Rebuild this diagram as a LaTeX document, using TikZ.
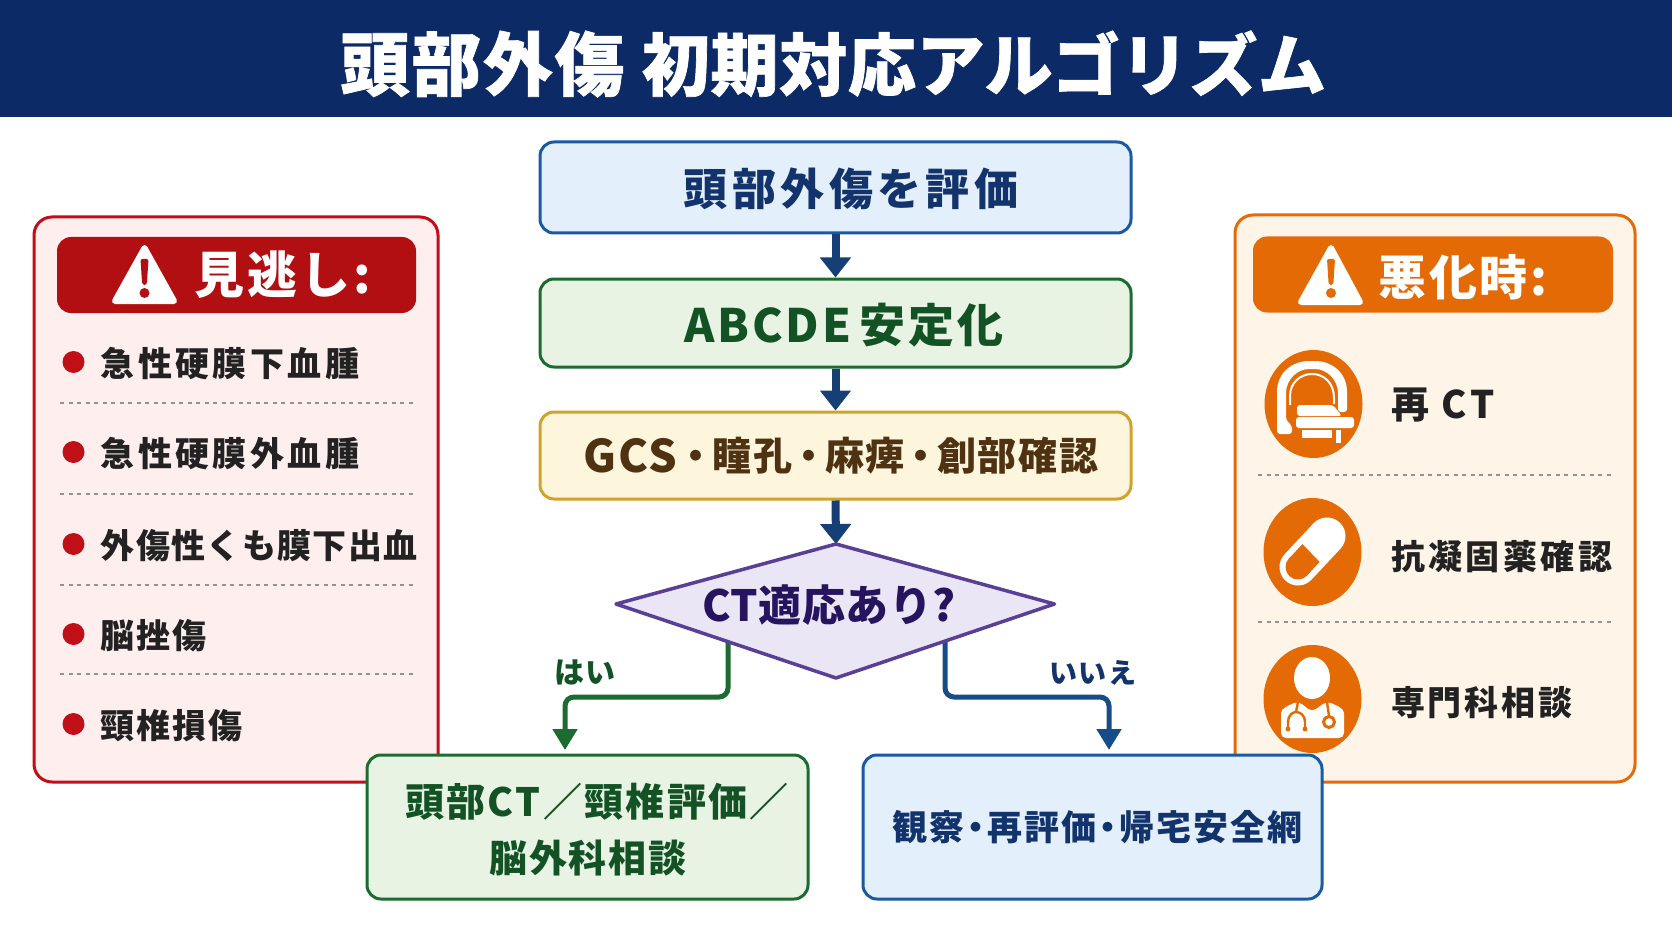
\documentclass[tikz,border=0pt]{standalone}
\usepackage{fontspec}
\usetikzlibrary{shapes.geometric,arrows.meta,calc}
\setmainfont{Noto Sans CJK JP}
\newfontfamily\jpt{Noto Sans CJK JP}[LetterSpace=1,FakeBold=1]
\newfontfamily\jpu{Noto Sans CJK JP}[LetterSpace=3,FakeBold=1]
\newfontfamily\jpn{Noto Sans CJK JP}[LetterSpace=1]
\newfontfamily\jpc{Noto Sans CJK JP}[LetterSpace=4]
\newfontfamily\jpa{Noto Sans CJK JP}[LetterSpace=6]
\newfontfamily\jpd{Noto Sans CJK JP}[LetterSpace=8]
\newfontfamily\jpb{Noto Sans CJK JP}[LetterSpace=10]
\definecolor{navy}{HTML}{0B2A66}
\definecolor{arrowblue}{HTML}{163F75}
\definecolor{bluebd}{HTML}{1A5AA0}
\definecolor{bluefl}{HTML}{E3F0FC}
\definecolor{bluetx}{HTML}{12336B}
\definecolor{greenbd}{HTML}{1C6B30}
\definecolor{greenfl}{HTML}{E8F3E4}
\definecolor{greentx}{HTML}{125224}
\definecolor{yellowbd}{HTML}{D1A22C}
\definecolor{yellowfl}{HTML}{FDF5DC}
\definecolor{yellowtx}{HTML}{4E3212}
\definecolor{purplebd}{HTML}{5A3F96}
\definecolor{purplefl}{HTML}{EBE6F6}
\definecolor{purpletx}{HTML}{26145F}
\definecolor{redbd}{HTML}{C00F17}
\definecolor{redfl}{HTML}{FEEEEE}
\definecolor{redhd}{HTML}{B20F12}
\definecolor{orangebd}{HTML}{E56A0A}
\definecolor{orangefl}{HTML}{FEF4E8}
\definecolor{orangehd}{HTML}{E46A06}
\definecolor{inkdark}{HTML}{222222}
\tikzset{
  flowbox/.style={draw,rounded corners=14pt,line width=3pt,inner sep=0pt},
  panelbox/.style={draw,rounded corners=18pt,line width=3pt,inner sep=0pt},
  headbox/.style={rounded corners=14pt,inner sep=0pt},
  sep/.style={draw=gray!85,line width=2pt,dash pattern=on 4pt off 4.5pt},
  mainarrow/.style={draw=arrowblue,line width=8pt,-{Triangle[length=20pt,width=30pt]}},
  brancharrow/.style={line width=5pt,rounded corners=9pt,-{Triangle[length=21pt,width=24pt]}},
  panelitem/.style={anchor=west,inner sep=0pt,text=inkdark,font=\jpa\bfseries\fontsize{34}{38}\selectfont},
  bullet/.style={circle,fill=redbd,minimum size=22pt,inner sep=0pt},
  iconbg/.style={ellipse,fill=orangehd,minimum width=98pt,minimum height=108pt,inner sep=0pt},
}
\begin{document}
\begin{tikzpicture}[x=1pt,y=-1pt]
\useasboundingbox (0,0) rectangle (1672,941);
\fill[white] (0,0) rectangle (1672,941);
% header
\node[fill=navy,minimum width=1672pt,minimum height=117pt,inner sep=0pt] (hdr) at (836,58.5) {};
\node[text=white,inner sep=0pt,font=\jpt\bfseries\fontsize{68}{78}\selectfont] (title) at (833,64) {{\jpu\bfseries\fontsize{69.5}{78}\selectfont 頭部外傷}\kern.02em\ 初期対応アルゴリズム};

% left panel
\node[panelbox,draw=redbd,fill=redfl,minimum width=404pt,minimum height=565pt] (lp) at (236,499.5) {};
\node[headbox,fill=redhd,minimum width=359pt,minimum height=76pt] (lh) at (236.5,275) {};
\fill[white,draw=white,line width=6pt,line join=round] (144.5,248) -- (174,301) -- (115,301) -- cycle;
\fill[redhd,rounded corners=2pt] (140.5,259) -- (148.5,259) -- (146.8,285) -- (142.2,285) -- cycle;
\fill[redhd] (144.5,293) circle (5pt);
\node[text=white,inner sep=0pt,font=\jpa\bfseries\fontsize{50}{54}\selectfont] (lht) at (283,275) {見逃し:};
\foreach \n/\y/\t/\f in {a/362/急性硬膜下血腫/\jpb,b/452/急性硬膜外血腫/\jpb,c/544/外傷性くも膜下出血/\jpc,d/634/脳挫傷/\jpa,e/724/頸椎損傷/\jpa}{
  \node[bullet] (bul\n) at (73.5,\y) {};
  \node[panelitem] (lit\n) at (100.5,\y+2) {\f\bfseries\t};
}
\foreach \y in {403,494,585,674}{
  \draw[sep] (60,\y) -- (413,\y);
}

% right panel
\node[panelbox,draw=orangebd,fill=orangefl,minimum width=400pt,minimum height=567pt] (rp) at (1435,498.5) {};
\node[headbox,fill=orangehd,minimum width=360pt,minimum height=76pt] (rh) at (1433,274.5) {};
\fill[white,draw=white,line width=6pt,line join=round] (1331,248) -- (1360,302) -- (1301,302) -- cycle;
\fill[orangehd,rounded corners=2pt] (1327,259) -- (1335,259) -- (1333.3,285) -- (1328.7,285) -- cycle;
\fill[orangehd] (1331,293) circle (5pt);
\node[text=white,inner sep=0pt,font=\jpa\bfseries\fontsize{48}{52}\selectfont] (rht) at (1463,277) {悪化時:};
\node[iconbg] (ica) at (1313.5,404) {};
\node[iconbg] (icb) at (1312.5,552) {};
\node[iconbg] (icc) at (1312.5,699) {};
% CT icon
\fill[white,rounded corners=3pt] (1277,434) -- (1277,395) .. controls (1277,372) and (1293,361) .. (1312,361) .. controls (1331,361) and (1347,372) .. (1347,395) -- (1347,412) -- (1338,412) -- (1338,396) .. controls (1338,380) and (1327,369) .. (1312,369) .. controls (1297,369) and (1286,380) .. (1286,396) -- (1286,420) -- (1292,426) -- (1292,434) -- cycle;
\draw[white,line width=2pt] (1290,405) -- (1290,396) .. controls (1290,383) and (1300,374) .. (1312,374) .. controls (1324,374) and (1334,383) .. (1334,398) -- (1334,404);
\fill[white,rounded corners=3pt] (1297,405) -- (1333,405) -- (1342,416) -- (1297,416) -- cycle;
\fill[white,rounded corners=3pt] (1296,417) rectangle (1354,428);
\fill[white] (1302,430) rectangle (1332,438);
\fill[white] (1336,430) rectangle (1341,443);
% pill icon
\coordinate (pa) at (1298,567);
\coordinate (pb) at (1327,536);
\coordinate (pm) at (1311,553);
\draw[white,line width=37pt,line cap=round] (pa) -- (pb);
\draw[orangehd,line width=25pt,line cap=round] (pa) -- ($(pa)!0.1!(pm)$);
\fill[orangehd] ($(pa)+(-8.6,-8.9)$) -- ($(pm)+(-8.6,-8.9)$) -- ($(pm)+(8.6,8.9)$) -- ($(pa)+(8.6,8.9)$) -- cycle;
% doctor icon
\fill[white] (1312,678) ellipse (18pt and 21pt);
\fill[white,rounded corners=5pt] (1281,738) -- (1281,718) .. controls (1281,708) and (1290,705) .. (1298,701) -- (1312,712) -- (1327,701) .. controls (1335,705) and (1344,708) .. (1344,718) -- (1344,738) -- cycle;
\draw[orangehd,line width=2.4pt] (1298,702) -- (1296,712);
\draw[orangehd,line width=2.4pt] (1288,729) -- (1288,722) .. controls (1288,716) and (1292,712) .. (1296,712) .. controls (1301,712) and (1305,716) .. (1305,722) -- (1305,729);
\fill[orangehd] (1288,729) circle (2.4pt) (1305,729) circle (2.4pt);
\draw[orangehd,line width=2.4pt] (1327,702) -- (1329,716);
\draw[orangehd,line width=3pt] (1329,722) circle (5.5pt);
% right texts
\node[panelitem,font=\jpb\bfseries\fontsize{38}{42}\selectfont] (rta) at (1391,405) {再 CT};
\node[panelitem,font=\jpb\bfseries\fontsize{34}{38}\selectfont] (rtb) at (1391,557) {抗凝固薬確認};
\node[panelitem,font=\jpd\bfseries\fontsize{34}{38}\selectfont] (rtc) at (1391,703) {専門科相談};
\foreach \y in {474.5,622}{
  \draw[sep] (1258,\y) -- (1611,\y);
}

% flow
\node[flowbox,draw=bluebd,fill=bluefl,minimum width=591pt,minimum height=91pt] (b1) at (835.5,187.5) {};
\node[text=bluetx,inner sep=0pt,font=\jpb\bfseries\fontsize{44}{48}\selectfont] (b1t) at (851,189) {頭部外傷を評価};
\node[flowbox,draw=greenbd,fill=greenfl,minimum width=591pt,minimum height=88pt] (b2) at (835.5,323) {};
\node[text=greentx,inner sep=0pt,font=\jpa\bfseries\fontsize{46}{50}\selectfont] (b2t) at (844,325) {ABCDE\kern-.1em\ 安定化};
\node[flowbox,draw=yellowbd,fill=yellowfl,minimum width=591pt,minimum height=87pt] (b3) at (835.5,455.5) {};
\node[text=yellowtx,inner sep=0pt,font=\jpc\bfseries\fontsize{39}{46}\selectfont] (b3t) at (841,456) {\raisebox{-2pt}{\fontsize{45}{46}\selectfont GCS}\kern-.02em・\kern-.08em 瞳孔\kern-.08em・\kern-.08em 麻痺\kern-.08em・\kern-.08em 創部確認};
\coordinate (dtop) at (836,544);
\coordinate (dright) at (1054.5,604);
\coordinate (dbot) at (836,678);
\coordinate (dleft) at (616,604);
\coordinate (ys) at (728,642);
\coordinate (ym) at (565,697);
\coordinate (ye) at (565,750);
\coordinate (ns) at (945,642);
\coordinate (ne) at (1109,750);
\node[flowbox,draw=greenbd,fill=greenfl,minimum width=441pt,minimum height=144pt] (yes) at (587.5,827) {};
\node[text=greentx,inner sep=0pt,font=\jpa\bfseries\fontsize{39}{57}\selectfont] (yest) at (597,802) {頭部CT／頸椎評価／};
\node[text=greentx,inner sep=0pt,font=\jpc\bfseries\fontsize{38}{57}\selectfont] (yesu) at (588,858) {脳外科相談};
\node[flowbox,draw=bluebd,fill=bluefl,minimum width=459pt,minimum height=144pt] (no) at (1092.5,827) {};
\node[text=bluetx,inner sep=0pt,font=\jpa\bfseries\fontsize{35}{40}\selectfont] (not) at (1097.5,827) {観察\kern-.17em・\kern-.17em 再評価\kern-.17em・\kern-.17em 帰宅安全網};

\draw[mainarrow] (b1.south) -- (b2.north);
\draw[mainarrow] (b2.south) -- (b3.north);
\draw[mainarrow] (b3.south) -- (dtop);
\draw[brancharrow,draw=greenbd,fill=none] (ys) |- (ym) -- (ye);
\draw[brancharrow,draw=bluebd!85!black,fill=none] (ns) |- (ne |- ym) -- (ne);
\draw[draw=purplebd,fill=purplefl,line width=3.5pt,line join=round] (dtop) -- (dright) -- (dbot) -- (dleft) -- cycle;
\node[text=purpletx,inner sep=0pt,font=\jpn\bfseries\fontsize{43}{48}\selectfont] (dt) at (829,605) {CT適応あり?};
\node[text=greentx,inner sep=0pt,font=\jpa\bfseries\fontsize{30}{34}\selectfont] (lyes) at (585,672) {はい};
\node[text=bluetx,inner sep=0pt,font=\jpa\bfseries\fontsize{28}{34}\selectfont] (lno) at (1093,673) {いいえ};
\end{tikzpicture}
\end{document}
